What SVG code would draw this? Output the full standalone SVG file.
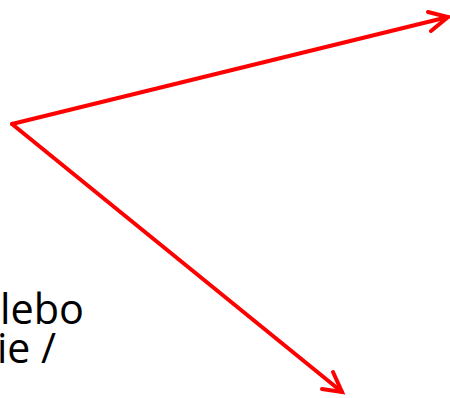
<svg xmlns="http://www.w3.org/2000/svg" width="450" height="398" viewBox="0 0 450 398">
<style>
.c{stroke:#ff0000;stroke-width:4;fill:none;stroke-linecap:round;stroke-linejoin:miter}
.t{font-family:"Open Sans","Liberation Sans",sans-serif;font-size:42px;fill:#000}
</style>
<rect width="450" height="398" fill="#fff"/>
<g id="label">
<text class="t" x="0" y="324" textLength="84" lengthAdjust="spacingAndGlyphs">lebo</text>
<text class="t" x="-3" y="363" textLength="59" lengthAdjust="spacingAndGlyphs">ie /</text>
</g>
<g id="connectors">
<path class="c" d="M12,124 L448,17"/>
<path class="c" d="M428,12 L448,17 L431,31"/>
<path class="c" d="M12,124 L342,392"/>
<path class="c" d="M333,372 L342,392 L322,389"/>
</g>
</svg>
